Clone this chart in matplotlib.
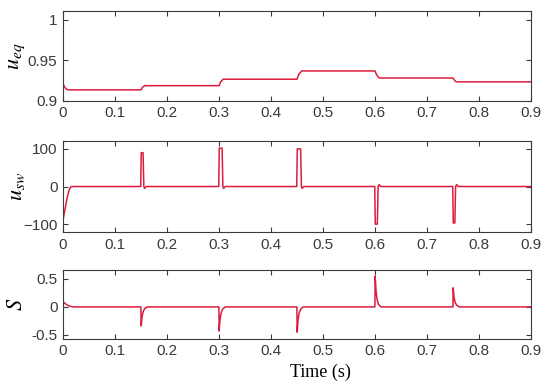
import matplotlib.pyplot as plt

# u_eq trace (time in s, value)
t_ueq = [0, 0.0005, 0.003, 0.006, 0.01, 0.15, 0.153, 0.157, 0.30, 0.303, 0.308,
         0.45, 0.453, 0.459, 0.60, 0.603, 0.608, 0.75, 0.753, 0.756, 0.9]
ueq = [1.0, 0.9205, 0.917, 0.9145, 0.9133, 0.9133, 0.9165, 0.9185, 0.9185, 0.923, 0.9265,
       0.9265, 0.932, 0.9367, 0.9367, 0.932, 0.928, 0.928, 0.925, 0.9232, 0.9232]

# u_sw trace
t_usw = [0, 0.004, 0.008, 0.012, 0.016, 0.02,
         0.1495, 0.1505, 0.154, 0.1555, 0.157, 0.16,
         0.2995, 0.3005, 0.306, 0.3075, 0.309, 0.312,
         0.4495, 0.4505, 0.457, 0.4585, 0.46, 0.463,
         0.5995, 0.6005, 0.6045, 0.606, 0.608, 0.611,
         0.7495, 0.7505, 0.7535, 0.755, 0.757, 0.76, 0.9]
usw = [-90, -60, -30, -8, 0, 0,
       0, 90, 90, 0, -5, 0,
       0, 102, 102, 0, -5, 0,
       0, 100, 100, 0, -5, 0,
       0, -100, -100, 0, 5, 0,
       0, -97, -97, 0, 5, 0, 0]

# sliding surface s
t_s = [0, 0.003, 0.007, 0.012, 0.018, 0.024,
       0.1498, 0.1503, 0.152, 0.154, 0.157, 0.162,
       0.2998, 0.3003, 0.302, 0.304, 0.307, 0.312,
       0.4498, 0.4503, 0.452, 0.454, 0.457, 0.462,
       0.5998, 0.6003, 0.602, 0.604, 0.607, 0.612,
       0.7498, 0.7503, 0.752, 0.754, 0.757, 0.762, 0.9]
s = [0.1, 0.07, 0.04, 0.015, 0.003, 0,
     0, -0.34, -0.18, -0.09, -0.03, 0,
     0, -0.43, -0.22, -0.11, -0.04, 0,
     0, -0.45, -0.23, -0.11, -0.04, 0,
     0, 0.55, 0.28, 0.13, 0.04, 0,
     0, 0.34, 0.17, 0.08, 0.03, 0, 0]

red = '#DC1C3C'
grey = '#3a3a3a'

plt.rcParams['mathtext.fontset'] = 'stix'
plt.rcParams['font.family'] = 'Liberation Sans'

fig = plt.figure(figsize=(5.5, 3.9), dpi=100)
left, width = 0.1145, 0.851
ax1 = fig.add_axes([left, 0.742, width, 0.230])
ax2 = fig.add_axes([left, 0.405, width, 0.2335])
ax3 = fig.add_axes([left, 0.131, width, 0.177])

ax1.plot(t_ueq, ueq, color=red, lw=1.1)
ax2.plot(t_usw, usw, color=red, lw=1.1)
ax3.plot(t_s, s, color=red, lw=1.1)

ax1.set_ylim(0.9, 1.011)
ax1.set_yticks([0.9, 0.95, 1])
ax1.set_yticklabels(['0.9', '0.95', '1'])
ax2.set_ylim(-121, 121)
ax2.set_yticks([-100, 0, 100])
ax3.set_ylim(-0.57, 0.66)
ax3.set_yticks([-0.5, 0, 0.5])
ax3.set_yticklabels(['-0.5', '0', '0.5'])

xt = [0, 0.1, 0.2, 0.3, 0.4, 0.5, 0.6, 0.7, 0.8, 0.9]
xl = ['0', '0.1', '0.2', '0.3', '0.4', '0.5', '0.6', '0.7', '0.8', '0.9']
for ax in (ax1, ax2, ax3):
    ax.set_xlim(0, 0.9)
    ax.set_xticks(xt)
    ax.set_xticklabels(xl)
    ax.tick_params(direction='in', top=True, right=True, length=3.5, width=0.8,
                   labelsize=11, colors=grey, pad=4)
    for sp in ax.spines.values():
        sp.set_color(grey)
        sp.set_linewidth(0.8)

ax1.set_ylabel('$u_{eq}$', fontsize=16)
ax2.set_ylabel('$u_{sw}$', fontsize=16)
ax3.set_ylabel('$S$', fontsize=16)
ax1.yaxis.set_label_coords(-0.076, 0.5)
ax2.yaxis.set_label_coords(-0.076, 0.5)
ax3.yaxis.set_label_coords(-0.076, 0.5)
fig.text(0.582, 0.022, 'Time (s)', fontsize=13, family='Liberation Serif',
         ha='center', va='bottom')

fig.savefig('out.png', dpi=100)
